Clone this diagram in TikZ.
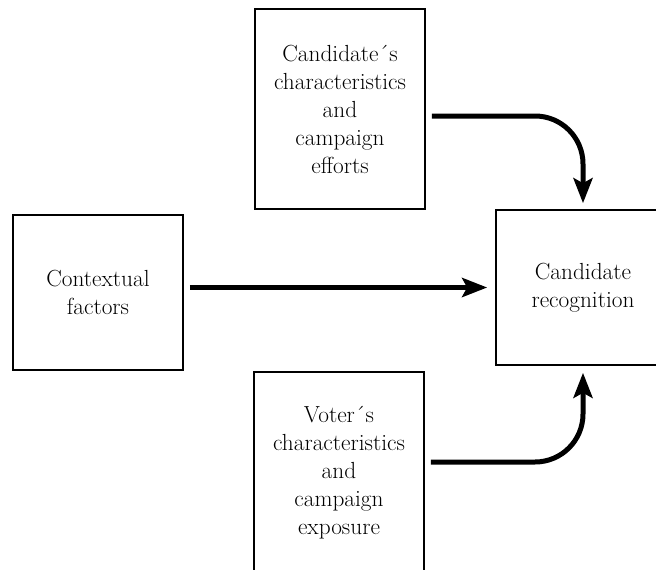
\documentclass[tikz,border=0pt]{standalone}
\usetikzlibrary{arrows.meta}

\begin{document}
\begin{tikzpicture}
            [x=1pt, y=-1pt,
            box/.style={draw, line width=1.6pt, align=center, inner sep=0pt,
                font=\fontsize{23.3}{28}\selectfont},
            flow/.style={line width=5pt, rounded corners=48pt,
                -{Stealth[length=25pt, width=19pt, inset=5pt]}}]

            \useasboundingbox (0,0) rectangle (656,570);
            \clip (0,0) rectangle (656,570);

            \node[box, minimum width=170pt, minimum height=200pt] (cand) at (340,109)
                {Candidate´s\\characteristics\\and\\campaign\\efforts};
            \node[box, minimum width=170pt, minimum height=155pt] (context) at (98,292.5)
                {Contextual\\factors};
            \node[box, minimum width=174pt, minimum height=155pt] (recog) at (583,287.5)
                {Candidate\\recognition};
            \node[box, minimum width=170pt, minimum height=202pt] (voter) at (339,473)
                {Voter´s\\characteristics\\and\\campaign\\exposure};

            % Arrows into candidate recognition
            \draw[flow, shorten >=6pt] ([xshift=6pt, yshift=-7pt]cand.east) -| (recog.north);
            \draw[flow, shorten >=8pt] ([xshift=6pt]context.east |- recog.west) -- (recog.west);
            \draw[flow, shorten >=7pt] ([xshift=6pt, yshift=11pt]voter.east) -| (recog.south);

        \end{tikzpicture}
\end{document}
